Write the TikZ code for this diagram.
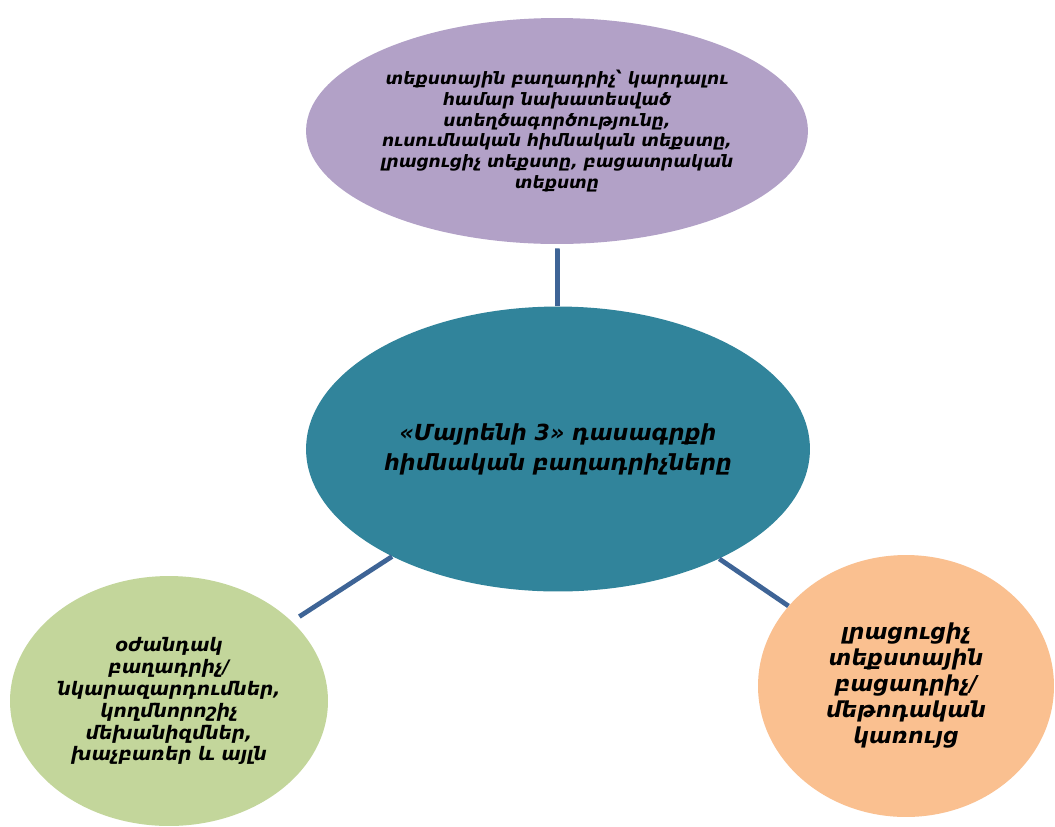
\documentclass[tikz,border=0pt]{standalone}
\usepackage{fontspec}
\newfontfamily\armfont{DejaVu Sans}
\usepackage[x11names, svgnames, rgb]{xcolor}
\usepackage{tikz}
\usetikzlibrary{shapes, calc, positioning}
\definecolor{partlila}{HTML}{B2A1C7}
\definecolor{partteal}{HTML}{31849B}
\definecolor{partgreen}{HTML}{C3D69B}
\definecolor{partpeach}{HTML}{FAC090}
\definecolor{linkblue}{RGB}{62,100,150}

\begin{document}
\begin{tikzpicture}[x=0.02cm, y=-0.02cm,
        part/.style={ellipse, inner sep=0pt},
        caption/.style={align=center, text=black, font={\armfont\bfseries\itshape#1}},
        link/.style={draw=linkblue, line width=2.7pt}]
        \clip (0,0) rectangle (1055,826);
        \fill[white] (0,0) rectangle (1055,826);
        \node[part, fill=partlila, minimum width=10.04cm, minimum height=4.52cm,
              label={[caption={\fontsize{9.7}{11.9}\selectfont}]center:{տեքստային բաղադրիչ՝ կարդալու\\ համար նախատեսված\\ ստեղծագործությունը,\\
               ուսումնական հիմնական տեքստը,\\ լրացուցիչ տեքստը, բացատրական\\ տեքստը}}] (text) at (557,131) {};
        \node[part, fill=partteal, minimum width=10.08cm, minimum height=5.7cm,
              label={[caption={\fontsize{12.6}{17}\selectfont}]center:{«Մայրենի 3» դասագրքի\\ հիմնական բաղադրիչները}}] (main) at (558,449) {};
        \node[part, fill=partgreen, minimum width=6.36cm, minimum height=5cm,
              label={[caption={\fontsize{10.6}{12.5}\selectfont}]center:{օժանդակ\\ բաղադրիչ/\\ նկարազարդումներ,\\ կողմնորոշիչ\\ մեխանիզմներ,\\ խաչբառեր և այլն}}] (aux) at (169,701) {};
        \node[part, fill=partpeach, minimum width=5.92cm, minimum height=5.24cm,
              label={[caption={\fontsize{12.5}{14.8}\selectfont}]center:{լրացուցիչ\\ տեքստային\\ բացադրիչ/\\ մեթոդական\\ կառույց}}] (extra) at (906,686) {};
        \draw[link, shorten <=2.3pt] (text) -- (main);
        \draw[link, shorten >=5pt] (main) -- (aux);
        \draw[link] (main) -- (extra);
      \end{tikzpicture}
\end{document}
